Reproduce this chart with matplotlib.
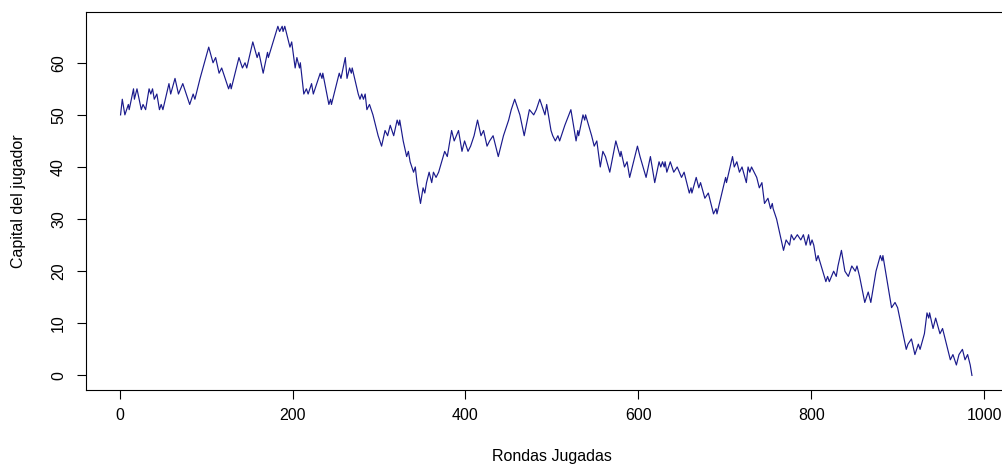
import matplotlib
matplotlib.use("Agg")
import matplotlib.pyplot as plt

plt.rcParams['font.family'] = ['Liberation Sans', 'DejaVu Sans']

# Turning points of the player's capital
rounds = [1, 3, 6, 10, 11, 16, 17, 20, 25, 27, 30, 34, 36, 38, 40, 43, 46, 48, 50, 57,
          59, 64, 68, 73, 81, 85, 87, 93, 103, 108, 111, 115, 118, 126, 128, 129, 138, 142, 145, 147,
          154, 159, 161, 166, 171, 172, 183, 185, 188, 189, 191, 197, 199, 203, 205, 208, 209, 213, 216, 218,
          222, 224, 232, 234, 235, 242, 244, 245, 254, 256, 261, 263, 266, 268, 269, 276, 278, 280, 282, 284,
          286, 289, 293, 299, 303, 307, 310, 313, 315, 317, 321, 323, 324, 328, 332, 334, 336, 340, 342, 344,
          348, 351, 353, 355, 358, 361, 363, 366, 369, 376, 379, 384, 387, 392, 396, 399, 403, 406, 410, 414,
          418, 421, 425, 428, 432, 438, 444, 450, 453, 457, 463, 468, 474, 479, 482, 486, 492, 494, 499, 501,
          504, 507, 509, 515, 522, 528, 530, 531, 536, 538, 539, 546, 549, 552, 556, 559, 562, 567, 574, 579,
          580, 584, 587, 590, 599, 602, 609, 614, 619, 624, 626, 628, 630, 631, 633, 637, 641, 645, 650, 653,
          659, 661, 662, 667, 670, 672, 677, 681, 687, 690, 691, 701, 702, 709, 711, 714, 717, 720, 725, 727,
          729, 731, 737, 740, 743, 746, 750, 753, 755, 756, 760, 764, 768, 771, 775, 777, 780, 784, 788, 791,
          794, 797, 799, 801, 803, 806, 808, 817, 819, 821, 826, 829, 831, 835, 839, 843, 847, 851, 853, 856,
          862, 866, 869, 875, 880, 882, 883, 893, 897, 900, 910, 912, 916, 920, 924, 926, 931, 934, 936, 937,
          941, 944, 949, 952, 961, 964, 968, 971, 975, 978, 981, 984, 986]
capital = [50, 53, 50, 52, 51, 55, 53, 55, 51, 52, 51, 55, 54, 55, 53, 54, 51, 52, 51, 56,
           54, 57, 54, 56, 52, 54, 53, 57, 63, 60, 61, 58, 59, 55, 56, 55, 61, 59, 60, 59,
           64, 61, 62, 58, 62, 61, 67, 66, 67, 66, 67, 63, 64, 59, 61, 59, 60, 54, 55, 54,
           56, 54, 58, 57, 58, 52, 53, 52, 58, 57, 61, 57, 59, 58, 59, 54, 53, 54, 53, 54,
           51, 52, 50, 46, 44, 47, 46, 48, 47, 46, 49, 48, 49, 45, 42, 43, 41, 39, 40, 37,
           33, 36, 35, 37, 39, 37, 39, 38, 39, 43, 42, 47, 45, 47, 43, 45, 43, 44, 46, 49,
           46, 47, 44, 45, 46, 42, 46, 49, 51, 53, 50, 46, 51, 50, 51, 53, 50, 52, 47, 46,
           45, 46, 45, 48, 51, 45, 47, 46, 50, 49, 50, 46, 44, 45, 40, 43, 42, 39, 45, 42,
           43, 40, 41, 38, 44, 42, 38, 42, 37, 41, 40, 41, 40, 41, 39, 41, 39, 40, 38, 39,
           35, 36, 35, 38, 36, 37, 34, 35, 31, 32, 31, 38, 37, 42, 40, 41, 39, 40, 37, 40,
           39, 40, 38, 36, 37, 33, 34, 32, 33, 32, 30, 27, 24, 26, 25, 27, 26, 27, 26, 27,
           25, 27, 25, 26, 25, 22, 23, 18, 19, 18, 20, 19, 21, 24, 20, 19, 21, 20, 21, 19,
           14, 16, 14, 20, 23, 22, 23, 13, 14, 13, 5, 6, 7, 4, 6, 5, 8, 12, 11, 12,
           9, 11, 8, 9, 3, 4, 2, 4, 5, 3, 4, 2, 0]

x_ticks = [0, 200, 400, 600, 800, 1000]
y_ticks = [0, 10, 20, 30, 40, 50, 60]
x_label = "Rondas Jugadas"
y_label = "Capital del jugador"

W, H = 1003, 468
fig = plt.figure(figsize=(W / 100, H / 100), dpi=100)
left_px, right_px, top_px, bottom_px = 86.5, 1006, 11.7, 390
ax = fig.add_axes([left_px / W, 1 - bottom_px / H,
                   (right_px - left_px) / W, (bottom_px - top_px) / H])

ax.plot(rounds, capital, color='#1a1a8c', lw=0.85)

ax.set_xlim(-38.4, 1025.4)
ax.set_ylim(-2.8, 69.8)
ax.set_xticks(x_ticks)
ax.set_yticks(y_ticks)
ax.set_xticklabels([str(v) for v in x_ticks])
ax.set_yticklabels([str(v) for v in y_ticks])

for s in ax.spines.values():
    s.set_linewidth(0.8)
    s.set_color('black')

ax.tick_params(axis='both', direction='out', length=6.7, width=0.8,
               labelsize=11.5, colors='black')
ax.tick_params(axis='x', pad=6.0)
ax.tick_params(axis='y', pad=8.0)
for lab in ax.get_yticklabels():
    lab.set_rotation(90)
    lab.set_verticalalignment('center')

ax.set_xlabel(x_label, fontsize=11.5)
ax.set_ylabel(y_label, fontsize=11.5)
ax.xaxis.set_label_coords((552 - left_px) / (right_px - left_px),
                          (bottom_px - 456) / (bottom_px - top_px))
ax.xaxis.label.set_verticalalignment('center')
ax.yaxis.set_label_coords((19 - left_px) / (right_px - left_px), 0.5)
ax.yaxis.label.set_verticalalignment('center')

fig.savefig("out.png", dpi=100)
